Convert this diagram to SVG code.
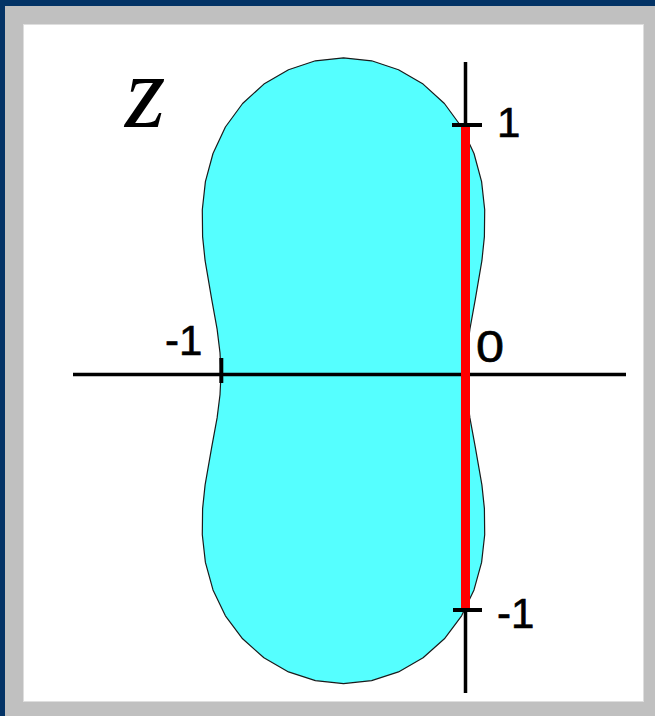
<svg xmlns="http://www.w3.org/2000/svg" width="655" height="716" viewBox="0 0 655 716">
<style>
.ax{stroke:#000;stroke-width:3.5;fill:none}
.tk{stroke:#000;stroke-width:4;fill:none}
.lbl{font-family:"Liberation Sans",Arial,sans-serif;font-size:42px;fill:#000;stroke:#000;stroke-width:0.6}
</style>
<g id="frame">
<rect x="0" y="0" width="655" height="716" fill="#c0c0c0"/>
<rect x="0" y="0" width="655" height="6" fill="#033366"/>
<rect x="0" y="0" width="5" height="716" fill="#033366"/>
<rect x="23.5" y="24.5" width="620" height="677" fill="#ffffff" stroke="#dedede" stroke-width="1"/>
</g>
<g id="region">
<path fill="#55ffff" stroke="#1a1a1a" stroke-width="1.2" stroke-linejoin="round" d="M343.5,57.8 L371.6,60.8 398.5,69.7 423.1,84.1 444.4,103.5 461.6,127.0 474.0,153.5 481.6,181.6 484.7,209.8 484.4,236.6 481.9,260.7 475.2,299.8 469.9,329.1 467.0,352.8 466.0,374.0 467.0,394.8 469.9,417.9 475.2,446.6 481.9,484.9 484.4,508.6 484.7,534.8 481.6,562.4 474.0,589.9 461.6,615.8 444.4,638.8 423.1,657.8 398.5,671.9 371.6,680.6 343.5,683.6 315.4,680.6 288.5,671.9 263.9,657.8 242.6,638.8 225.4,615.8 213.0,589.9 205.4,562.4 202.3,534.8 202.6,508.6 205.1,484.9 211.8,446.6 217.1,417.9 220.0,394.8 221.0,374.0 220.0,352.8 217.1,329.1 211.8,299.8 205.1,260.7 202.6,236.6 202.3,209.8 205.4,181.6 213.0,153.5 225.4,127.0 242.6,103.5 263.9,84.1 288.5,69.7 315.4,60.8 Z"/>
</g>
<g id="axes">
<line class="ax" x1="73" y1="374.5" x2="626" y2="374.5"/>
<line class="ax" x1="465.5" y1="62" x2="465.5" y2="693"/>
</g>
<g id="segment">
<line x1="465.5" y1="126" x2="465.5" y2="609" stroke="#ff0000" stroke-width="9"/>
</g>
<g id="ticks">
<line class="tk" x1="452" y1="125" x2="482" y2="125"/>
<line class="tk" x1="453" y1="610" x2="482" y2="610"/>
<line class="tk" x1="221.3" y1="358" x2="221.3" y2="383"/>
</g>
<g id="labels">
<text class="lbl" x="497" y="137">1</text>
<text class="lbl" x="497" y="628">-1</text>
<text class="lbl" x="165" y="355">-1</text>
<text class="lbl" transform="translate(476,362) scale(1.2,1.05)">0</text>
<text x="125" y="127" font-family="'Liberation Serif',serif" font-style="italic" font-size="104" fill="#000">z</text>
</g>
</svg>
